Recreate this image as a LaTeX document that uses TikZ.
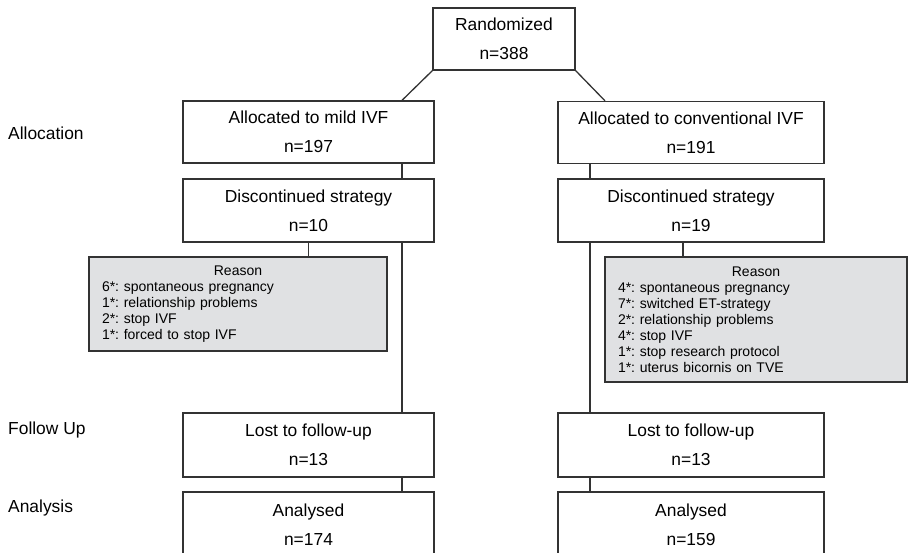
\documentclass[tikz,border=0pt]{standalone}
\usepackage{fontspec}
\setmainfont{Liberation Sans}
\definecolor{reasongray}{RGB}{224,225,227}
\definecolor{linegray}{RGB}{51,51,51}
\frenchspacing

\begin{document}
\begin{tikzpicture}[x=1pt, y=-1pt,
	box/.style={draw=linegray, line width=1.3pt, rectangle, fill=white, align=center, font=\fontsize{17.4}{29}\selectfont, inner sep=0pt, minimum height=62pt},
	reasonbox/.style={draw=linegray, line width=1.3pt, rectangle, fill=reasongray, align=left, font=\fontsize{14}{16}\selectfont, inner sep=0pt},
	phase/.style={anchor=west, inner sep=0pt, font=\fontsize{17.4}{20}\selectfont},
	link/.style={draw=linegray, line width=1.3pt}]
				\useasboundingbox (0, 0) rectangle (909, 553);
				\node[box, minimum width=142pt] (rand)at(504, 39) {Randomized\\n=388};
				\node[box, minimum width=251pt] (mild)at(308.5, 132) {Allocated to mild IVF\\n=197};
				\node[box, minimum width=266pt] (conv)at(691, 132.5) {Allocated to conventional IVF\\n=191};
				\node[box, minimum width=251pt, minimum height=63pt] (discL)at(308.5, 210.5) {Discontinued strategy\\n=10};
				\node[box, minimum width=266pt, minimum height=63pt] (discR)at(691, 210.5) {Discontinued strategy\\n=19};
				\node[reasonbox, text width=272pt, minimum width=298pt, minimum height=94pt] (reasonL)at(238, 304) {\makebox[\hsize]{Reason}\\6*: spontaneous pregnancy\\1*: relationship problems\\2*: stop IVF\\1*: forced to stop IVF};
				\node[reasonbox, text width=276pt, minimum width=302pt, minimum height=125pt] (reasonR)at(756, 319.5) {\makebox[\hsize]{Reason}\\4*: spontaneous pregnancy\\7*: switched ET-strategy\\2*: relationship problems\\4*: stop IVF\\1*: stop research protocol\\1*: uterus bicornis on TVE};
				\node[box, minimum width=251pt, minimum height=64pt] (lostL)at(308.5, 445) {Lost to follow-up\\n=13};
				\node[box, minimum width=266pt, minimum height=64pt] (lostR)at(691, 445) {Lost to follow-up\\n=13};
				\node[box, minimum width=251pt, minimum height=66pt] (anaL)at(308.5, 525) {Analysed\\n=174};
				\node[box, minimum width=266pt, minimum height=66pt] (anaR)at(691, 525) {Analysed\\n=159};
				\node[phase] (alloc)at(8, 133) {Allocation};
				\node[phase] (follow)at(8, 430) {Follow Up};
				\node[phase] (analysis)at(8, 508) {Analysis};
				\coordinate (trunkL)at(402, 0);
				\coordinate (trunkR)at(590, 0);
				\coordinate (diagR)at(605, 0);
				\coordinate (splitR)at(683, 0);
				\draw[link] (rand.south west) -- (mild.north -| trunkL);
				\draw[link] (rand.south east) -- (conv.north -| diagR);
				\draw[link] (mild.south -| trunkL) -- (discL.north -| trunkL);
				\draw[link] (discL.south -| trunkL) -- (lostL.north -| trunkL);
				\draw[link] (lostL.south -| trunkL) -- (anaL.north -| trunkL);
				\draw[link] (discL.south) -- (discL.south |- reasonL.north);
				\draw[link] (conv.south -| trunkR) -- (discR.north -| trunkR);
				\draw[link] (discR.south -| trunkR) -- (lostR.north -| trunkR);
				\draw[link] (lostR.south -| trunkR) -- (anaR.north -| trunkR);
				\draw[link] (discR.south -| splitR) -- (reasonR.north -| splitR);
			\end{tikzpicture}
\end{document}
